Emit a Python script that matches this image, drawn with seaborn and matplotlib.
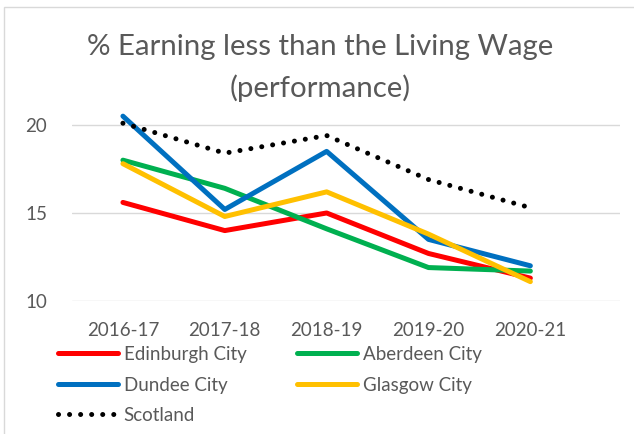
import matplotlib
matplotlib.use("Agg")
import matplotlib.pyplot as plt
from matplotlib.lines import Line2D
from matplotlib.patches import Rectangle
import seaborn as sns
import pandas as pd

years = ["2016-17", "2017-18", "2018-19", "2019-20", "2020-21"]
edinburgh = [15.6, 14.0, 15.0, 12.7, 11.3]
aberdeen = [18.0, 16.4, 14.1, 11.9, 11.7]
dundee = [20.5, 15.2, 18.5, 13.5, 12.0]
glasgow = [17.8, 14.8, 16.2, 13.8, 11.1]
scotland = [20.1, 18.4, 19.4, 16.9, 15.3]
yticks = [10, 15, 20]

series = [
    ("Edinburgh City", edinburgh, "#FF0000", "-"),
    ("Aberdeen City", aberdeen, "#00B050", "-"),
    ("Dundee City", dundee, "#0070C0", "-"),
    ("Glasgow City", glasgow, "#FFC000", "-"),
    ("Scotland", scotland, "#000000", (0, (0.01, 2.2))),
]

sns.set_style("white")
plt.rcParams["font.family"] = ["Lato", "DejaVu Sans"]
text_col = "#595959"

fig = plt.figure(figsize=(6.34, 4.34), dpi=100)
fig.patches.append(Rectangle((4 / 634, -0.01), 1.0, 1 - 7 / 434 + 0.01,
                             transform=fig.transFigure, fill=False,
                             edgecolor="#D9D9D9", linewidth=1.0))
ax = fig.add_axes([72 / 634, (434 - 301) / 434, (620 - 72) / 634, (301 - 110) / 434])

handles = {}
for name, vals, col, ls in series:
    df = pd.DataFrame({"x": range(len(years)), "y": vals})
    sns.lineplot(data=df, x="x", y="y", ax=ax, color=col, linewidth=3.6,
                 linestyle=ls, legend=False)
    line = ax.lines[-1]
    line.set_solid_capstyle("round")
    line.set_dash_capstyle("round")
    line.set_solid_joinstyle("round")
    handles[name] = Line2D([], [], color=col, linewidth=3.6, linestyle=ls,
                           solid_capstyle="round", dash_capstyle="round")

ax.set_xlim(-0.5, 4.88)
ax.set_ylim(10, 20.85)
ax.set_xticks(range(len(years)))
ax.set_xticklabels(years)
ax.set_yticks(yticks)
ax.set_xlabel("")
ax.set_ylabel("")
ax.grid(axis="y", color="#D9D9D9", linewidth=1.0)
ax.set_axisbelow(True)
for s in ax.spines.values():
    s.set_visible(False)
ax.tick_params(axis="both", length=0, labelsize=13.5, colors=text_col)
ax.tick_params(axis="x", pad=15)
ax.tick_params(axis="y", pad=18)

fig.text(0.505, 1 - 47 / 434, "% Earning less than the Living Wage",
         ha="center", va="center", fontsize=21.2, color=text_col)
fig.text(0.505, 1 - 88 / 434, "(performance)",
         ha="center", va="center", fontsize=21.2, color=text_col)

order = ["Edinburgh City", "Dundee City", "Scotland", "Aberdeen City", "Glasgow City"]
fig.legend([handles[n] for n in order], order, ncol=2, frameon=False,
           loc="upper left", bbox_to_anchor=(58 / 634, 1 - 346 / 434),
           fontsize=13.5, labelcolor=text_col, handlelength=3.2,
           handletextpad=0.3, columnspacing=2.72, labelspacing=0.72,
           borderaxespad=0, borderpad=0)

fig.savefig("out.png", dpi=100)
